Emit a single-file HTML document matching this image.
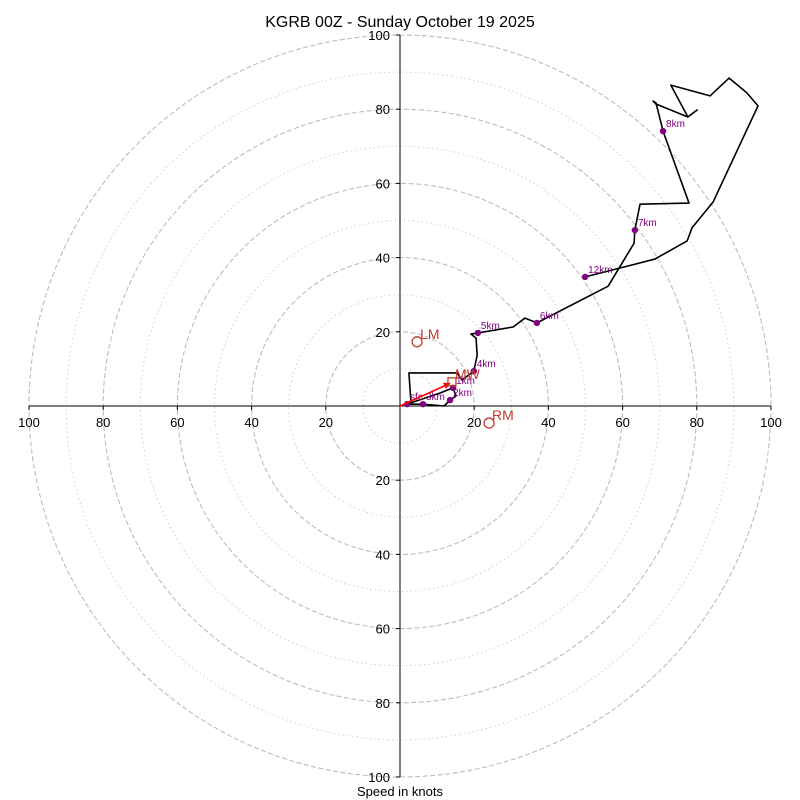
<!DOCTYPE html>
<html><head><meta charset="utf-8"><style>
body{margin:0;background:#fff}svg{display:block;font-family:"Liberation Sans","DejaVu Sans",sans-serif}
</style></head><body>
<svg id="c" width="800" height="800">
<text x="400" y="27" text-anchor="middle" font-size="16">KGRB 00Z - Sunday October 19 2025</text>
<text x="400" y="796" text-anchor="middle" font-size="13">Speed in knots</text>
<g id="rings"></g><g id="axes"></g><g id="series"></g>
</svg>
<script>
const ringValues=[10,20,30,40,50,60,70,80,90,100];
const tickValues=[20,40,60,80,100];
const pathU=[1.9,10.8,14.3,15.1,13.5,11.9,6.2,3.0,2.4,15.4,16.7,19.9,20.8,20.5,19.1,21.0,30.5,33.7,36.9,56.1,63.1,63.3,64.7,77.9,70.9,69.0,68.2,69.0,77.6,80.1,77.6,73.0,83.6,88.7,93.5,96.5,84.4,78.7,77.4,68.7,49.9];
const pathV=[0.5,3.5,4.9,2.7,1.6,0,0.5,0.5,8.9,8.9,7.0,9.4,13.7,18.3,19.4,19.7,21.3,23.7,22.4,32.3,43.9,47.4,54.4,54.7,74.1,81.7,82.2,81.4,77.9,79.8,77.9,86.5,83.6,88.4,84.4,80.9,55.0,48.0,44.5,39.6,34.8];
const markerLabels=["sfc","1km","2km","3km","4km","5km","6km","7km","8km","12km"];
const markerU=[1.9,14.3,13.5,6.2,19.9,21.0,36.9,63.3,70.9,49.9];
const markerV=[0.5,4.9,1.6,0.5,9.4,19.7,22.4,47.4,74.1,34.8];
const motionLabels=["LM","RM","MW"];
const motionU=[4.6,24.0,14.0];
const motionV=[17.3,-4.6,6.5];
const cx=400,cy=406,k=3.71;
const X=u=>cx+u*k,Y=v=>cy-v*k;
const NS="http://www.w3.org/2000/svg";
function mk(t,p,a){const e=document.createElementNS(NS,t);for(const q in a)e.setAttribute(q,a[q]);p.appendChild(e);return e;}
const rg=document.getElementById('rings');
ringValues.forEach(r=>{const e=mk('circle',rg,{cx:cx,cy:cy,r:r*k,fill:'none',stroke:r%20?'#d0d0d0':'#bdbdbd','stroke-width':r%20?1:1.1,'stroke-dasharray':r%20?'1.5,3':'5,2.5'});

});
const ax=document.getElementById('axes');
let l=mk('line',ax,{x1:X(-100),y1:cy,x2:X(100),y2:cy,stroke:'#000'});


l=mk('line',ax,{x1:cx,y1:Y(100),x2:cx,y2:Y(-100),stroke:'#000'});


tickValues.forEach(t=>{[-1,1].forEach(s=>{
mk('line',ax,{x1:X(s*t),y1:cy,x2:X(s*t),y2:cy+4,stroke:'#000'});
let tx=mk('text',ax,{x:X(s*t),y:cy+21,'text-anchor':'middle','font-size':13});tx.textContent=t;


mk('line',ax,{x1:cx-4,y1:Y(s*t),x2:cx,y2:Y(s*t),stroke:'#000'});
let ty=mk('text',ax,{x:cx-10,y:Y(s*t)+5,'text-anchor':'end','font-size':13});ty.textContent=t;

});});
const sg=document.getElementById('series');
const pl=mk('polyline',sg,{points:pathU.map((u,i)=>X(u)+','+Y(pathV[i])).join(' '),fill:'none',stroke:'#000','stroke-width':1.6,'stroke-linejoin':'round'});


markerLabels.forEach((s,i)=>{const d=mk('circle',sg,{cx:X(markerU[i]),cy:Y(markerV[i]),r:3.2,fill:'#800080'});


const t=mk('text',sg,{x:X(markerU[i])+3,y:Y(markerV[i])-4,'font-size':10,fill:'#800080'});t.textContent=s;

});
const ar=mk('line',sg,{x1:cx,y1:cy,x2:X(motionU[2])-3,y2:Y(motionV[2])+2,stroke:'red','stroke-width':1.6});


const ah=mk('polygon',sg,{points:[[X(motionU[2])-1,Y(motionV[2])+1],[X(motionU[2])-9,Y(motionV[2])+1],[X(motionU[2])-6,Y(motionV[2])+7]].map(p=>p.join(',')).join(' '),fill:'red'});


motionLabels.forEach((s,i)=>{let m;
if(s==='MW'){m=mk('rect',sg,{x:X(motionU[i])-4,y:Y(motionV[i])-4,width:8,height:8,fill:'none',stroke:'#c0392b','stroke-width':1.3});}
else{m=mk('circle',sg,{cx:X(motionU[i]),cy:Y(motionV[i]),r:5,fill:'none',stroke:'#c0392b','stroke-width':1.3});}


const t=mk('text',sg,{x:X(motionU[i])+3,y:Y(motionV[i])-3,'font-size':14,fill:'#c0392b'});t.textContent=s;

});
</script>
</body></html>
